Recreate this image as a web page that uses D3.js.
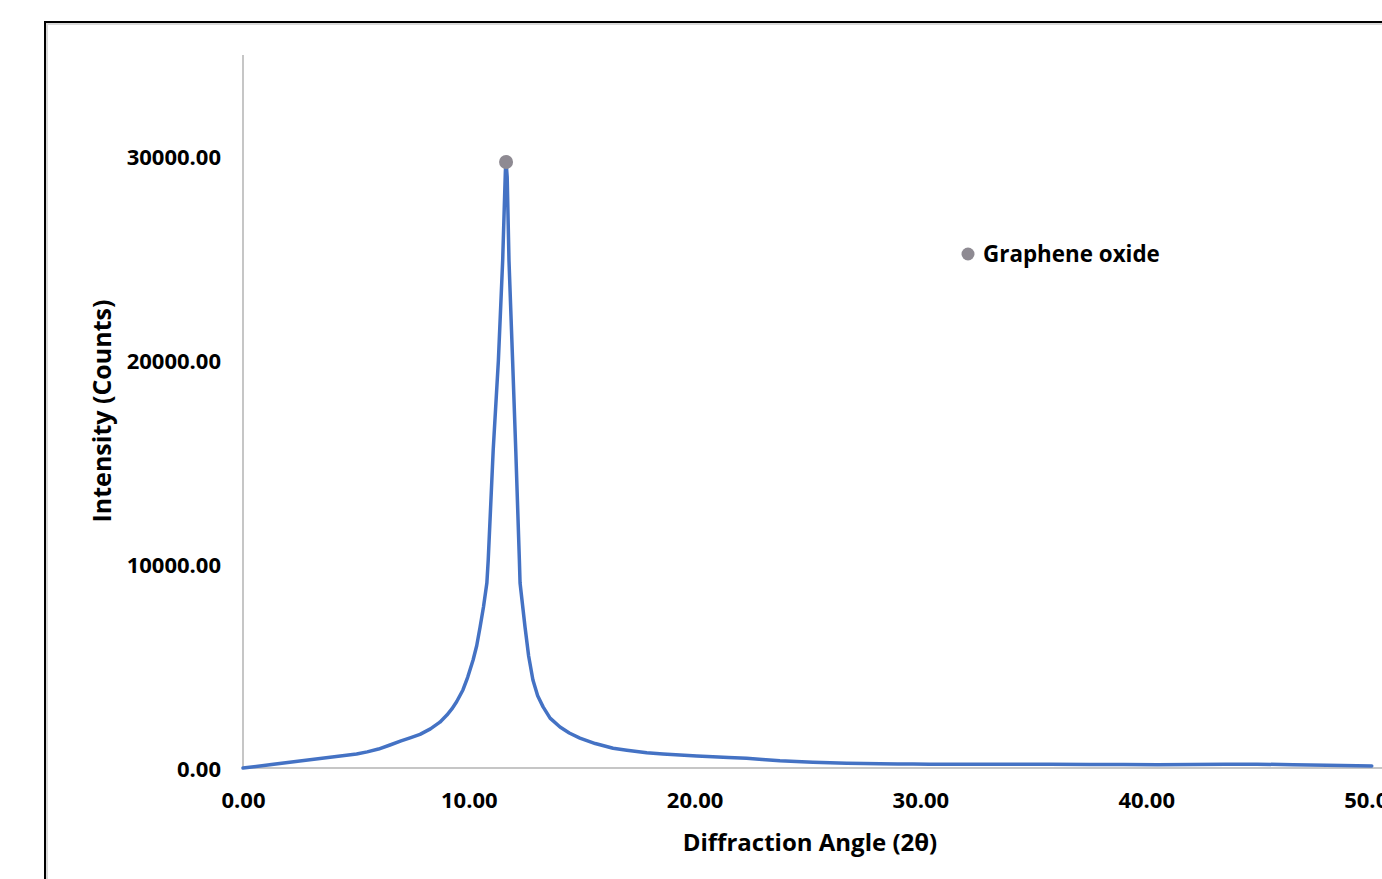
<!DOCTYPE html>
<html>
<head>
<meta charset="utf-8">
<script src="https://cdn.jsdelivr.net/npm/d3@7"></script>
<style>
  html, body { margin: 0; padding: 0; background: #fff; }
  svg { display: block; }
  text { font-family: "Open Sans", "Noto Sans", sans-serif; font-weight: 700; fill: #000; }
</style>
</head>
<body>
<svg id="chart" width="1382" height="879"></svg>
<script>
// ---- data ----
const angles = [0, 5.03, 5.5, 6.0, 6.51, 7.0, 7.4, 7.84, 8.3, 8.72, 9.03, 9.25, 9.46, 9.74, 9.95, 10.19, 10.35, 10.5, 10.65, 10.8, 10.86, 11.08, 11.31, 11.5, 11.62, 11.65,
  11.7, 11.78, 11.94, 12.08, 12.24, 12.27, 12.38, 12.49, 12.65, 12.84, 13.05, 13.29, 13.6, 14.04, 14.45, 14.92, 15.6, 16.39, 17.0, 17.88, 18.6, 19.35, 20.1, 20.81, 21.5, 22.3, 23.0, 23.78, 24.5, 25.24, 26.0, 26.74, 27.5, 28.2, 29.0, 29.67, 30.4, 31.16, 31.9, 32.6, 34.0, 35.7, 37.5, 39.0, 40.5, 42.0, 43.5, 44.9, 46.5, 48.0, 49.99];
const intensities = [0, 687, 790, 930, 1130, 1330, 1480, 1650, 1920, 2250, 2600, 2900, 3250, 3830, 4450, 5300, 6000, 6920, 7900, 9080, 10200, 15600, 20000, 24900, 29300, 29750,
  29000, 24900, 20000, 15600, 10200, 9080, 8000, 6920, 5500, 4320, 3550, 3000, 2450, 2010, 1720, 1470, 1200, 967, 870, 751, 690, 638, 590, 555, 515, 476, 420, 358, 320, 280, 255, 231, 220, 211, 200, 196, 190, 180, 182, 180, 178, 180, 170, 175, 165, 170, 180, 190, 160, 140, 98];
const seriesName = "Graphene oxide";
const xTicks = [0, 10, 20, 30, 40, 50];
const yTicks = [0, 10000, 20000, 30000];
const xTitle = "Diffraction Angle (2\u03b8)";
const yTitle = "Intensity (Counts)";

// ---- layout ----
const svg = d3.select("#chart");
const x = d3.scaleLinear().domain([0, 50]).range([243, 1372]);
const y = d3.scaleLinear().domain([0, 35000]).range([768, 55]);

// outer frame (continues beyond the picture)
svg.append("rect").attr("x", 47).attr("y", 24).attr("width", 1400).attr("height", 900)
  .attr("fill", "none").attr("stroke", "#d9d9d9").attr("stroke-width", 2);
svg.append("rect").attr("x", 45).attr("y", 22).attr("width", 1400).attr("height", 900)
  .attr("fill", "none").attr("stroke", "#000").attr("stroke-width", 2);

// axes lines
svg.append("line").attr("x1", 243).attr("x2", 243).attr("y1", y(35000)).attr("y2", y(0))
  .attr("stroke", "#c6c6c6").attr("stroke-width", 2);
svg.append("line").attr("x1", 243).attr("x2", 1382).attr("y1", y(0)).attr("y2", y(0))
  .attr("stroke", "#c6c6c6").attr("stroke-width", 2);

// axis generators (labels only)
const fmt = d3.format(".2f");
const xAxis = d3.axisBottom(x).tickValues(xTicks).tickFormat(fmt).tickSize(0).tickPadding(0);
const gx = svg.append("g").attr("transform", "translate(0,768)").call(xAxis);
gx.select(".domain").remove();
gx.selectAll("text").attr("y", 0).attr("dy", "40px")
  .style("font-family", "'Open Sans', sans-serif").style("font-weight", 700).style("font-size", "22px").attr("fill", "#000");

const yAxis = d3.axisLeft(y).tickValues(yTicks).tickFormat(fmt).tickSize(0).tickPadding(0);
const gy = svg.append("g").attr("transform", "translate(221,0)").call(yAxis);
gy.select(".domain").remove();
gy.selectAll("text").attr("x", 0).attr("dy", "8px")
  .style("font-family", "'Open Sans', sans-serif").style("font-weight", 700).style("font-size", "22px").attr("fill", "#000");

// line
const pts = angles.map((a, i) => [a, intensities[i]]);
svg.append("path").datum(pts)
  .attr("fill", "none").attr("stroke", "#4472c4").attr("stroke-width", 3.5)
  .attr("stroke-linejoin", "round").attr("stroke-linecap", "round")
  .attr("d", d3.line().x(d => x(d[0])).y(d => y(d[1])));

// peak marker
const iMax = d3.maxIndex(intensities);
svg.append("circle").attr("cx", x(angles[iMax])).attr("cy", y(intensities[iMax]))
  .attr("r", 7).attr("fill", "#8e8a92");

// legend
svg.append("circle").attr("cx", 968).attr("cy", 254).attr("r", 6.5).attr("fill", "#8e8a92");
svg.append("text").attr("x", 983).attr("y", 262).style("font-size", "22.4px").text(seriesName);

// titles
svg.append("text").attr("x", 810).attr("y", 851).attr("text-anchor", "middle")
  .style("font-size", "24px").text(xTitle);
svg.append("text").attr("transform", "translate(111,411) rotate(-90)").attr("text-anchor", "middle")
  .style("font-size", "25px").text(yTitle);
</script>
</body>
</html>
